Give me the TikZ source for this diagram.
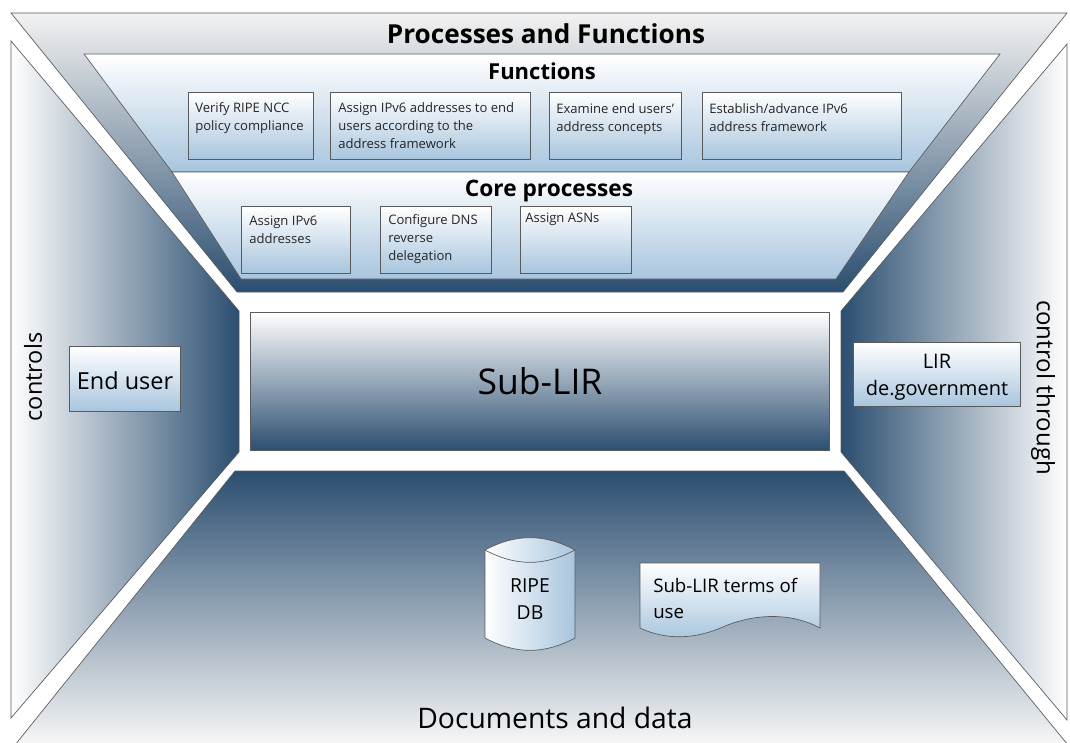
\documentclass[tikz,border=0pt]{standalone}
\usepackage{fontspec}
\setmainfont{Open Sans}
\usetikzlibrary{positioning, shapes.geometric}
\definecolor{deepblue}{HTML}{2B4E70}
\definecolor{paleblue}{HTML}{A8C5DE}
\definecolor{framegray}{HTML}{5A5A5A}
\tikzset{
	wall/.style={draw=framegray, line width=0.5pt},
	taskbox/.style={draw=framegray, line width=0.6pt, rectangle, top color=white, bottom color=paleblue, anchor=north west, inner sep=0pt},
	tasktext/.style={font=\fontsize{9.8}{13.5}\selectfont, text=black!85, align=left, anchor=north west, inner sep=0pt},
	actorbox/.style={draw=framegray, line width=0.5pt, rectangle, top color=white, bottom color=paleblue},
}
\begin{document}
\begin{tikzpicture}[x=0.75pt, y=-0.75pt]
	\useasboundingbox (0, 0) rectangle (1070, 742);

	\draw [wall, top color=white!95!black, bottom color=deepblue] (11, 13) -- (1067, 13) -- (843, 292) -- (237, 292) -- cycle;
	\draw [wall, left color=white, right color=deepblue] (11, 41) -- (239, 311) -- (239, 452) -- (11, 718) -- cycle;
	\draw [wall, left color=deepblue, right color=white] (1067, 44) -- (841, 311) -- (841, 452) -- (1067, 720) -- cycle;
	\draw [wall, top color=deepblue, bottom color=white!97!black] (235, 471) -- (844, 471) -- (1068, 745) -- (15, 745) -- cycle;

	\draw [wall, top color=white, bottom color=paleblue] (84, 54) -- (1000, 54) -- (909, 172) -- (172, 172) -- cycle;
	\draw [wall, top color=white, bottom color=paleblue] (172, 172) -- (909, 172) -- (836, 279) -- (241, 279) -- cycle;

	\node[font=\fontsize{19.6}{24}\selectfont\bfseries] (title) at (546, 34) {Processes and Functions};
	\node[font=\fontsize{16.5}{20}\selectfont\bfseries] (functions) at (542, 71) {Functions};
	\node[font=\fontsize{17}{20}\selectfont\bfseries] (core) at (549, 191) {Core processes};

	\node[taskbox, minimum width=94pt, minimum height=50pt] (verify) at (188, 92) {};
	\node[tasktext] (verifytext) at (195, 102) {Verify RIPE NCC\\policy compliance};
	\node[taskbox, minimum width=150pt, minimum height=50pt] (assignend) at (330, 92) {};
	\node[tasktext] (assignendtext) at (338, 102) {Assign IPv6 addresses to end\\users according to the\\address framework};
	\node[taskbox, minimum width=99pt, minimum height=50pt] (examine) at (549, 92) {};
	\node[tasktext] (examinetext) at (556, 103) {Examine end users'\\address concepts};
	\node[taskbox, minimum width=149pt, minimum height=50pt] (establish) at (702, 92) {};
	\node[tasktext] (establishtext) at (709, 103) {Establish/advance IPv6\\address framework};

	\node[taskbox, minimum width=82pt, minimum height=50pt] (assignip) at (241, 206) {};
	\node[tasktext] (assigniptext) at (249, 216) {Assign IPv6\\addresses};
	\node[taskbox, minimum width=83pt, minimum height=50pt] (dns) at (380, 206) {};
	\node[tasktext] (dnstext) at (388, 214) {Configure DNS\\reverse\\delegation};
	\node[taskbox, minimum width=83pt, minimum height=50pt] (asn) at (520, 206) {};
	\node[tasktext] (asntext) at (525, 213) {Assign ASNs};

	\node[draw=framegray, line width=0.6pt, rectangle, top color=white, bottom color=deepblue, minimum width=434pt, minimum height=104pt, font=\fontsize{26.6}{32}\selectfont] (sublir) at (540, 381.5) {Sub-LIR};

	\node[actorbox, minimum width=83pt, minimum height=49pt] (enduser) at (125, 379) {};
	\node[font=\fontsize{17.6}{20}\selectfont] (endusertext) at (125, 381) {End user};
	\node[actorbox, minimum width=125pt, minimum height=48pt] (lir) at (937, 374.5) {};
	\node[align=center, font=\fontsize{15}{20}\selectfont] (lirtext) at (937, 377) {LIR\\de.government};

	\node[rotate=90, font=\fontsize{17.6}{20}\selectfont] (controls) at (33, 377) {controls};
	\node[rotate=-90, font=\fontsize{18}{20}\selectfont] (through) at (1043, 387.5) {control through};

	\draw [draw=framegray, line width=0.5pt, left color=white, right color=paleblue] (485, 550) to [bend left=28] (575, 550) -- (575, 638) to [bend left=28] (485, 638) -- cycle;
	\draw [draw=framegray, line width=0.5pt, left color=white, right color=paleblue] (485, 550) to [bend right=28] (575, 550) to [bend right=28] (485, 550);
	\node[align=center, font=\fontsize{14.5}{20}\selectfont] (ripedb) at (530, 599) {RIPE\\DB};

	\draw [draw=framegray, line width=0.5pt, top color=white, bottom color=paleblue] (640, 563) -- (820, 563) -- (820, 628) .. controls (790, 612) and (755, 614) .. (725, 626) .. controls (695, 640) and (665, 640) .. (640, 628) -- cycle;
	\node[align=left, anchor=north west, inner sep=0pt, font=\fontsize{14}{19.5}\selectfont] (terms) at (653, 578) {Sub-LIR terms of\\use};

	\node[font=\fontsize{21.2}{24}\selectfont] (documents) at (555, 718) {Documents and data};
\end{tikzpicture}
\end{document}
